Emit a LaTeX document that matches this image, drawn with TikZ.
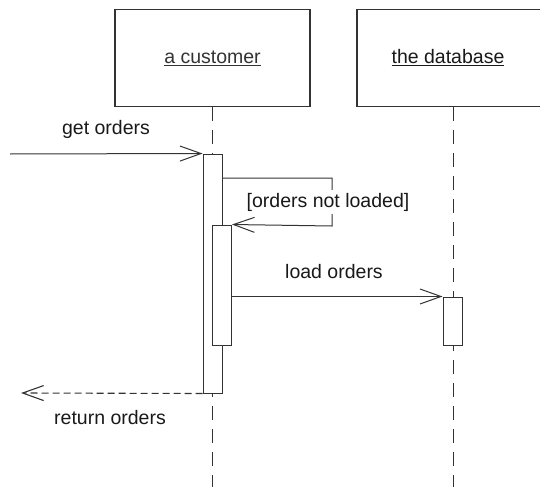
\documentclass[tikz,border=0pt]{standalone}
\usepackage{fontspec}
\setmainfont{Liberation Sans}
\usetikzlibrary{arrows.meta}
\begin{document}
\begin{tikzpicture}[x=1pt,y=-1pt,
  font=\fontsize{19.5}{22}\selectfont,
  line width=1pt, color=black!80,
  objbox/.style={draw, line width=1.4pt, inner sep=0, minimum height=97pt},
  actbar/.style={draw, fill=white, inner sep=0, minimum width=19pt},
  lifeline/.style={dash pattern=on 14pt off 9pt},
  msg/.style={-{Straight Barb[length=21pt,width=15pt]}},
  retmsg/.style={line width=1.1pt, dash pattern=on 7pt off 4pt, -{Straight Barb[length=21pt,width=15pt]}},
  lbl/.style={inner sep=0, text=black!90}]
\useasboundingbox (0,0) rectangle (540,487);
\clip (0,0) rectangle (540,487);
% objects
\node[objbox, minimum width=195pt] (cust) at (212.5,58) {\underline{a customer}};
\node[objbox, minimum width=192pt] (db) at (453,58) {};
\node[lbl] (dblbl) at (448,58) {\underline{the database}};
% lifelines
\coordinate (custend) at (212.5,487);
\coordinate (dbend) at (453,487);
\draw[lifeline] (cust.south) -- (custend);
\draw[lifeline] (db.south) -- (dbend);
% activations
\node[actbar, minimum height=239pt] (act1) at (212.5,273.5) {};
\node[actbar, minimum height=120pt] (act2) at (222,285) {};
\node[actbar, minimum height=48pt] (act3) at (452.5,321) {};
% get orders
\coordinate (start) at (10,154);
\draw[msg] (start) -- (act1.north west);
\node[lbl] (l1) at (106,129) {get orders};
% self call
\coordinate (selfa) at (332,178);
\coordinate (selfb) at (332,226);
\draw[msg] (act1.east |- selfa) -- (selfa) -- (selfb) -- (act2.north east);
\node[lbl, fill=white, inner xsep=1pt, inner ysep=3pt] (l2) at (328,202) {[orders not loaded]};
% load orders
\draw[msg] (act2.east |- act3.north) -- (act3.north west);
\node[lbl] (l3) at (334,272) {load orders};
% return
\coordinate (retend) at (21,393);
\draw[retmsg] (act1.south west) -- (retend);
\node[lbl] (l4) at (110,418) {return orders};
\end{tikzpicture}
\end{document}
